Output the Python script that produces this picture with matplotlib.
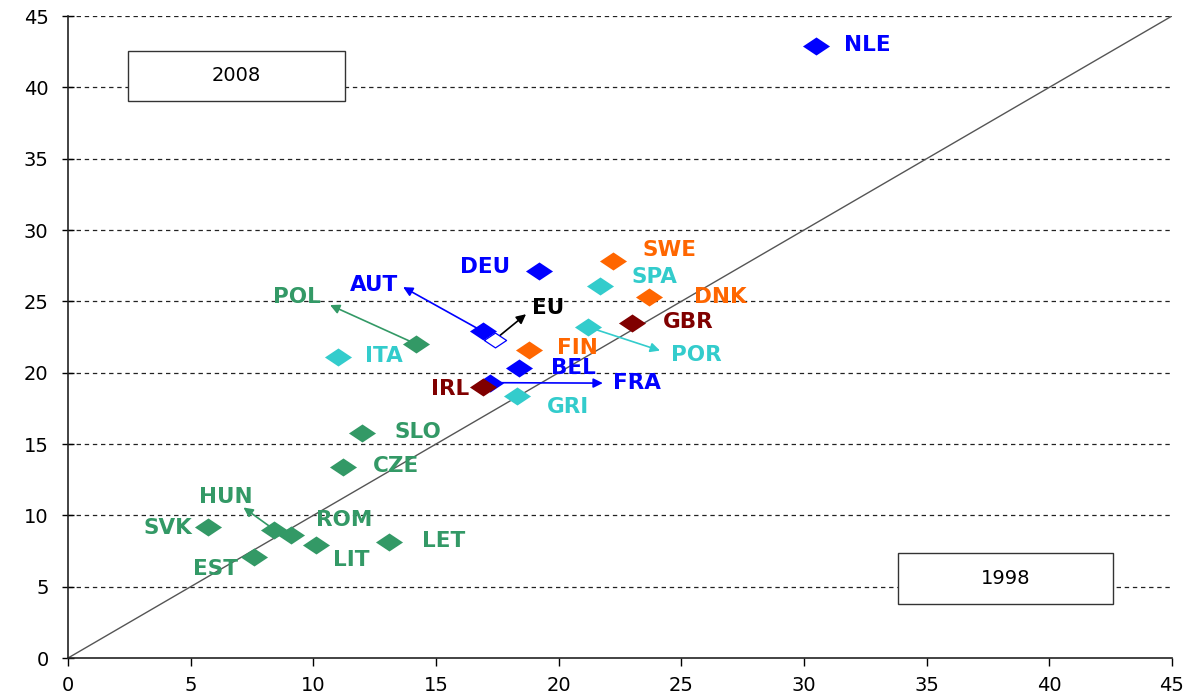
import matplotlib
matplotlib.use("Agg")
import matplotlib.pyplot as plt
from matplotlib.patches import Rectangle

# data: value in 1998 (x) and 2008 (y)
countries = ["NLE", "DEU", "SWE", "SPA", "DNK", "GBR", "POR", "FIN", "BEL", "AUT",
             "ITA", "POL", "FRA", "IRL", "GRI", "SLO", "CZE", "SVK", "HUN", "ROM",
             "LIT", "LET", "EST"]
x1998 = [30.5, 19.2, 22.2, 21.7, 23.7, 23.0, 21.2, 18.8, 18.4, 16.9,
         11.0, 14.2, 17.2, 16.9, 18.3, 12.0, 11.2, 5.7, 8.4, 9.1,
         10.1, 13.1, 7.6]
y2008 = [42.9, 27.1, 27.8, 26.1, 25.3, 23.5, 23.2, 21.6, 20.3, 22.9,
         21.1, 22.0, 19.3, 19.0, 18.4, 15.8, 13.4, 9.2, 9.0, 8.6,
         7.9, 8.1, 7.1]
groups = ["core", "core", "nordic", "south", "nordic", "anglo", "south", "nordic", "core", "core",
          "south", "east", "core", "anglo", "south", "east", "east", "east", "east", "east",
          "east", "east", "east"]
eu_x, eu_y = 17.4, 22.3

COLORS = {"core": "#0000FF", "nordic": "#FF6600", "south": "#33CCCC",
          "anglo": "#800000", "east": "#339966"}

# label centres (layout)
label_pos = {"NLE": (32.6, 42.96), "DEU": (17.0, 27.4), "SWE": (24.5, 28.6), "SPA": (23.9, 26.7),
             "DNK": (26.6, 25.3), "GBR": (25.3, 23.55), "POR": (25.6, 21.23), "FIN": (20.75, 21.72),
             "BEL": (20.6, 20.32), "AUT": (12.47, 26.14), "ITA": (12.88, 21.16), "POL": (9.34, 25.3),
             "FRA": (23.2, 19.27), "IRL": (15.57, 18.85), "GRI": (20.38, 17.59), "SLO": (14.27, 15.84),
             "CZE": (13.37, 13.45), "HUN": (6.44, 11.28), "ROM": (11.25, 9.67), "SVK": (4.08, 9.11),
             "LIT": (11.54, 6.87), "LET": (15.33, 8.2), "EST": (6.03, 6.24)}
# arrow tips
arrow_tip = {"AUT": (13.66, 26.0), "POL": (10.68, 24.74), "POR": (24.13, 21.55),
             "FRA": (21.8, 19.27), "HUN": (7.15, 10.55)}

plt.rcParams["font.family"] = ["DejaVu Sans"]
fig = plt.figure(figsize=(11.94, 6.98), dpi=100)
ax = fig.add_axes([0.057, 0.0573, 0.9245, 0.9197])

diamond = [(-1.5, 0), (0, 1), (1.5, 0), (0, -1), (-1.5, 0)]

ax.set_xlim(0, 45)
ax.set_ylim(0, 45)
ax.set_xticks(range(0, 46, 5))
ax.set_yticks(range(0, 46, 5))
for y in range(5, 46, 5):
    ax.axhline(y, color="#222", ls=(0, (3.5, 3)), lw=0.9, zorder=0)
ax.plot([0, 45], [0, 45], color="#555", lw=1.0, zorder=1)

for c in ["top", "right"]:
    ax.spines[c].set_visible(False)
for c in ["left", "bottom"]:
    ax.spines[c].set_color("#222")
    ax.spines[c].set_linewidth(1.2)
ax.tick_params(axis="x", direction="out", length=6, width=1, labelsize=14, pad=7)
ax.tick_params(axis="y", direction="inout", length=8, width=1, labelsize=14, pad=10)

# arrows
for i, c in enumerate(countries):
    if c in arrow_tip:
        col = COLORS[groups[i]]
        ax.annotate("", xy=arrow_tip[c], xytext=(x1998[i], y2008[i]),
                    arrowprops=dict(arrowstyle="-|>", color=col, lw=1.2,
                                    mutation_scale=14, shrinkA=0, shrinkB=0), zorder=2)
ax.annotate("", xy=(18.67, 24.1), xytext=(eu_x + 0.2, eu_y + 0.3),
            arrowprops=dict(arrowstyle="-|>", color="black", lw=1.2,
                            mutation_scale=14, shrinkA=0, shrinkB=0), zorder=2)

for i, c in enumerate(countries):
    col = COLORS[groups[i]]
    ax.scatter(x1998[i], y2008[i], marker=diamond, s=19.5 ** 2, color=col, lw=0, zorder=3)
    lx, ly = label_pos[c]
    ax.text(lx, ly, c, color=col, fontsize=15.5, fontweight="bold", ha="center", va="center", zorder=4)

ax.scatter(eu_x, eu_y, marker=diamond, s=16 ** 2, facecolor="white", edgecolor="#0000FF", lw=0.9, zorder=3)
ax.text(19.57, 24.53, "EU", color="black", fontsize=15.5, fontweight="bold", ha="center", va="center", zorder=4)

# year boxes
ax.add_patch(Rectangle((2.45, 39.03), 8.84, 3.51, facecolor="white", edgecolor="#333", lw=1, zorder=2))
ax.text(6.87, 40.8, "2008", fontsize=14, ha="center", va="center", zorder=3)
ax.add_patch(Rectangle((33.84, 3.78), 8.76, 3.58, facecolor="white", edgecolor="#333", lw=1, zorder=2))
ax.text(38.22, 5.6, "1998", fontsize=14, ha="center", va="center", zorder=3)

fig.savefig("out.png", dpi=100)
